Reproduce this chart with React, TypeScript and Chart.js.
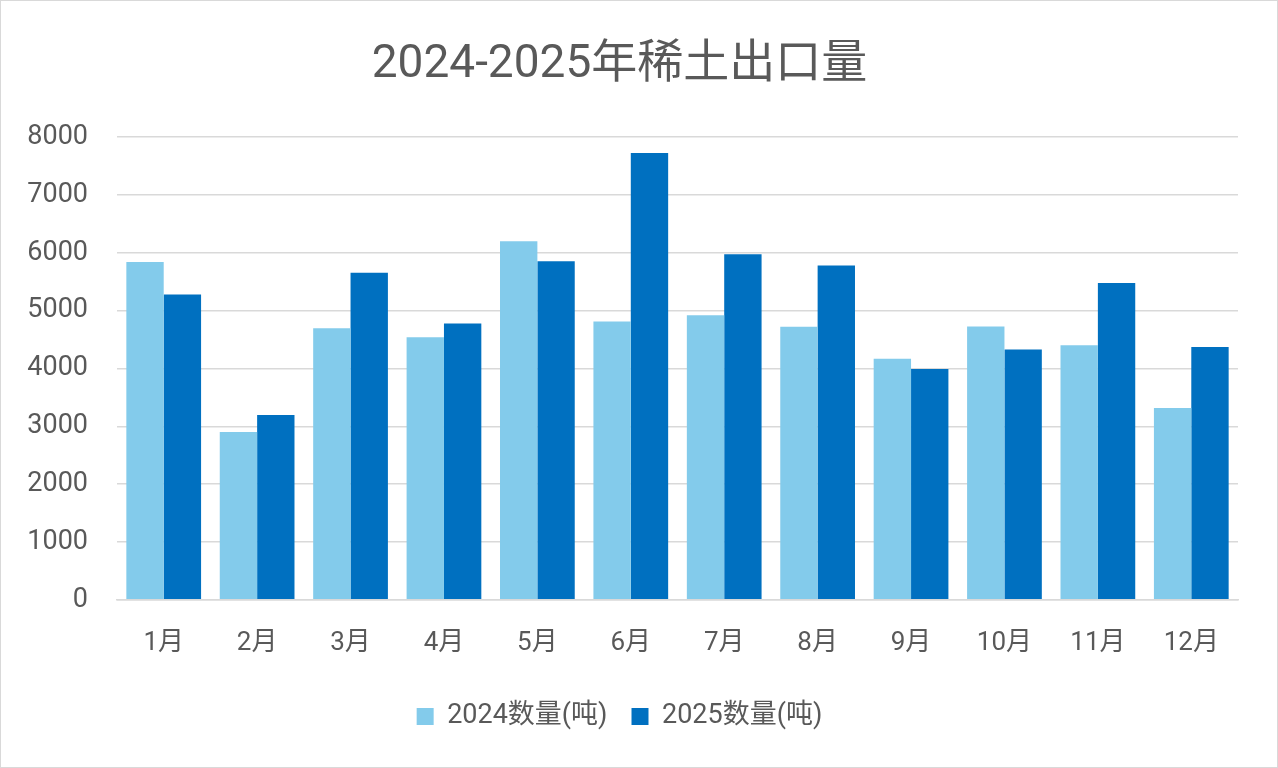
import React, { useEffect, useRef } from 'react';
import { Chart, registerables } from 'chart.js';

Chart.register(...registerables);

const months = ['1月', '2月', '3月', '4月', '5月', '6月', '7月', '8月', '9月', '10月', '11月', '12月'];
const export2024 = [5840, 2903, 4694, 4542, 6200, 4813, 4922, 4720, 4168, 4728, 4400, 3316];
const export2025 = [5280, 3196, 5655, 4779, 5855, 7725, 5976, 5780, 3990, 4330, 5480, 4370];
const seriesNames = ['2024数量(吨)', '2025数量(吨)'];

const FONT = 'Roboto, "Noto Sans CJK SC", sans-serif';

const App: React.FC = () => {
  const canvasRef = useRef<HTMLCanvasElement>(null);
  const chartRef = useRef<Chart | null>(null);

  useEffect(() => {
    document.body.style.margin = '0';
    if (!canvasRef.current) return;
    if (chartRef.current) chartRef.current.destroy();

    chartRef.current = new Chart(canvasRef.current, {
      type: 'bar',
      data: {
        labels: months,
        datasets: [
          {
            label: seriesNames[0],
            data: export2024,
            backgroundColor: '#83cbeb',
            categoryPercentage: 0.8,
            barPercentage: 1.0,
          },
          {
            label: seriesNames[1],
            data: export2025,
            backgroundColor: '#0070c0',
            categoryPercentage: 0.8,
            barPercentage: 1.0,
          },
        ],
      },
      options: {
        animation: false,
        responsive: true,
        maintainAspectRatio: false,
        layout: { padding: { left: 0, right: 39, top: 16, bottom: 27 } },
        scales: {
          x: {
            grid: { display: false },
            border: { color: '#d9d9d9', width: 1.5 },
            ticks: {
              color: '#595959',
              font: { family: FONT, size: 26 },
              padding: 20,
            },
          },
          y: {
            min: 0,
            max: 8000,
            border: { display: false },
            grid: { color: '#d9d9d9', lineWidth: 1.5, drawTicks: false },
            ticks: {
              stepSize: 1000,
              color: '#595959',
              font: { family: FONT, size: 27 },
              padding: 29,
              callback: (v) => String(v),
            },
            afterFit: (scale) => {
              scale.width = 116;
            },
          },
        },
        plugins: {
          title: {
            display: true,
            text: '2024-2025年稀土出口量',
            color: '#595959',
            font: { family: FONT, size: 46, weight: 'normal' },
            padding: { top: 21, bottom: 44 },
          },
          legend: {
            position: 'bottom',
            labels: {
              color: '#595959',
              font: { family: FONT, size: 27 },
              boxWidth: 17,
              boxHeight: 17,
              padding: 24,
            },
          },
          tooltip: { enabled: false },
        },
      },
    });

    return () => {
      if (chartRef.current) {
        chartRef.current.destroy();
        chartRef.current = null;
      }
    };
  }, []);

  return (
    <div
      style={{
        width: 1278,
        height: 768,
        boxSizing: 'border-box',
        border: '1px solid #d9d9d9',
        background: '#fff',
        position: 'relative',
      }}
    >
      <canvas ref={canvasRef} />
    </div>
  );
};

export default App;
